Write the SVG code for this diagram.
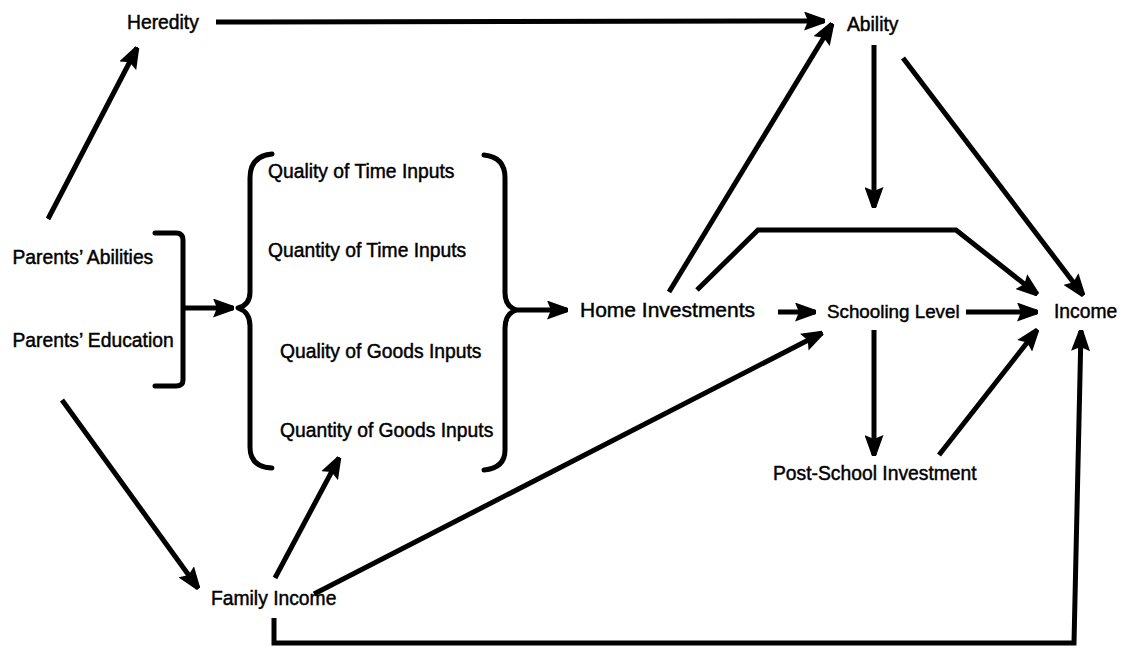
<svg xmlns="http://www.w3.org/2000/svg" width="1125" height="648" viewBox="0 0 1125 648">
  <style>
    .lbl { font-family: "Liberation Sans", Arial, sans-serif; font-size: 19.3px; fill: #000; stroke: #000; stroke-width: 0.45px; }
    .big { font-size: 21px; }
    .edge { fill: none; stroke: #000; stroke-width: 5; stroke-linejoin: miter; }
    .brace { fill: none; stroke: #000; stroke-width: 5; stroke-linecap: round; stroke-linejoin: round; }
  </style>
  <defs>
    <marker id="head" markerUnits="userSpaceOnUse" markerWidth="21" markerHeight="19" viewBox="0 0 21 19" refX="20" refY="9.5" orient="auto">
      <path d="M0,0 L21,7.5 L21,11.5 L0,19 L4,9.5 z" fill="#000"/>
    </marker>
  </defs>
  <rect width="1125" height="648" fill="#fff"/>

  <!-- nodes -->
  <g id="node-heredity"><text class="lbl" x="127" y="29">Heredity</text></g>
  <g id="node-ability"><text class="lbl" x="847" y="31">Ability</text></g>
  <g id="node-parents-abilities"><text class="lbl" x="12.5" y="264">Parents’ Abilities</text></g>
  <g id="node-parents-education"><text class="lbl" x="12.5" y="347">Parents’ Education</text></g>
  <g id="node-home-inputs">
    <text class="lbl" x="268" y="178">Quality of Time Inputs</text>
    <text class="lbl" x="268" y="257">Quantity of Time Inputs</text>
    <text class="lbl" x="280" y="358">Quality of Goods Inputs</text>
    <text class="lbl" x="280" y="437">Quantity of Goods Inputs</text>
  </g>
  <g id="node-home-investments"><text class="lbl big" x="580" y="317">Home Investments</text></g>
  <g id="node-schooling-level"><text class="lbl" x="827" y="318" style="font-size:18.8px">Schooling Level</text></g>
  <g id="node-income"><text class="lbl" x="1054" y="318">Income</text></g>
  <g id="node-post-school"><text class="lbl" x="773" y="480">Post-School Investment</text></g>
  <g id="node-family-income"><text class="lbl" x="211" y="605">Family Income</text></g>

  <!-- brackets grouping the parents and the home inputs -->
  <g id="brackets">
    <path class="brace" d="M155,233 H176 Q183,233 183,240 V380 Q183,386 176,386 H155"/>
    <path class="brace" d="M272,154 Q250,156 250,178 V292 Q250,305 238,308 Q250,312 250,326 V447 Q250,467 272,468"/>
    <path class="brace" d="M484,155 Q505,157 505,178 V293 Q505,306 516,310 Q505,314 505,328 V450 Q505,468 484,470"/>
  </g>

  <!-- connectors -->
  <g id="connectors">
    <path class="edge" marker-end="url(#head)" d="M183,308 H233"/>
    <path class="edge" marker-end="url(#head)" d="M516,310 H567"/>
    <path class="edge" marker-end="url(#head)" d="M48,219 L137,48"/>
    <path class="edge" marker-end="url(#head)" d="M216,22 L824,21"/>
    <path class="edge" marker-end="url(#head)" d="M669,292 L832,24"/>
    <path class="edge" marker-end="url(#head)" d="M874,45 L874,207"/>
    <path class="edge" marker-end="url(#head)" d="M903,58 L1083,295"/>
    <path class="edge" marker-end="url(#head)" d="M697,290 L758,230 L956,230 L1037,294"/>
    <path class="edge" marker-end="url(#head)" d="M778,312 H815"/>
    <path class="edge" marker-end="url(#head)" d="M966,312 H1037"/>
    <path class="edge" marker-end="url(#head)" d="M874,330 L874,455"/>
    <path class="edge" marker-end="url(#head)" d="M939,455 L1037,330"/>
    <path class="edge" marker-end="url(#head)" d="M274,618 L274,643 L1074,643 L1081,331"/>
    <path class="edge" marker-end="url(#head)" d="M314,594 L822,333"/>
    <path class="edge" marker-end="url(#head)" d="M275,578 L339,458"/>
    <path class="edge" marker-end="url(#head)" d="M62,400 L198,588"/>
  </g>
</svg>
